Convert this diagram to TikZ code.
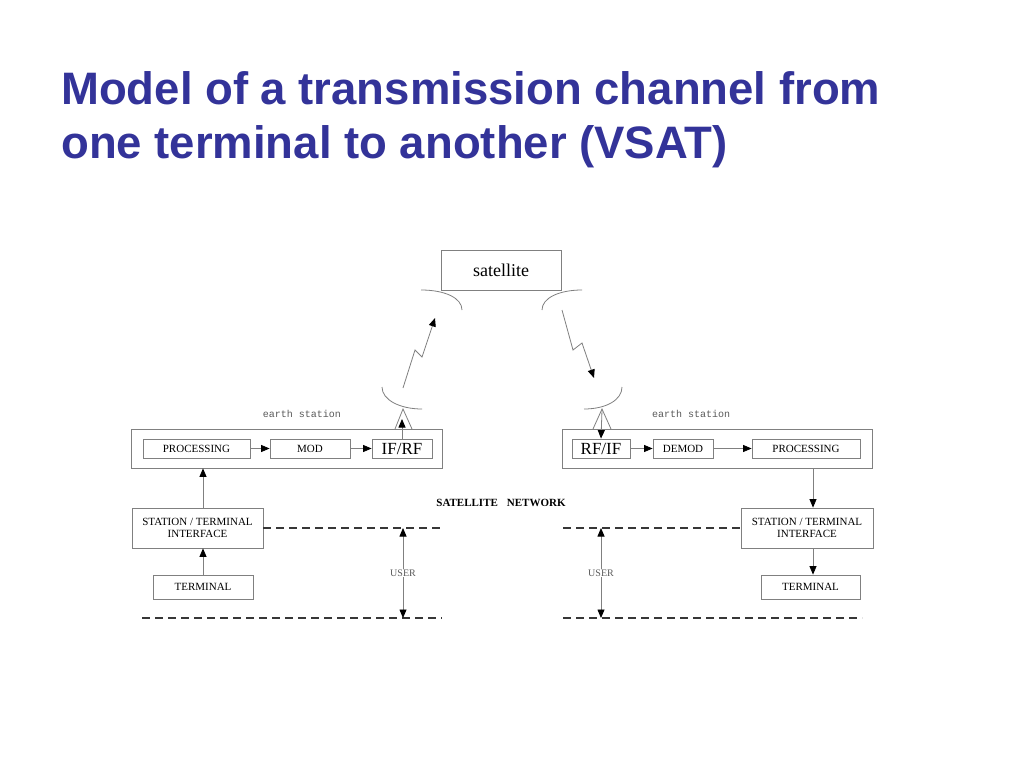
\documentclass[tikz,border=0pt]{standalone}
\usepackage{fontspec}
\setmainfont{Liberation Serif}
\newfontfamily\titlefont{Liberation Sans}
\newfontfamily\monofont{Liberation Mono}
\usetikzlibrary{arrows.meta,calc}
\definecolor{titleblue}{RGB}{51,51,153}
\definecolor{boxgray}{RGB}{128,128,128}
\definecolor{dashgray}{RGB}{55,55,55}
\definecolor{textgray}{RGB}{90,90,90}
\begin{document}
\begin{tikzpicture}[x=1pt,y=-1pt,
  box/.style={draw=boxgray,line width=0.8pt,rectangle,inner sep=0pt,anchor=center,
    font=\fontsize{11}{12}\selectfont,align=center},
  bigbox/.style={box,font=\fontsize{17}{18}\selectfont},
  conn/.style={draw=boxgray,line width=0.8pt},
  arr/.style={conn,-{Triangle[length=8.5pt,width=7pt,fill=black,color=black]}},
  darr/.style={conn,{Triangle[length=8.5pt,width=7pt,fill=black,color=black]}-{Triangle[length=8.5pt,width=7pt,fill=black,color=black]}},
  dline/.style={draw=dashgray,line width=1.1pt,dash pattern=on 8pt off 5pt},
  dish/.style={draw=boxgray,line width=0.8pt},
  lbl/.style={inner sep=0pt,text=textgray},
  titletext/.style={inner sep=0pt,anchor=base west,text=titleblue,
    font=\titlefont\bfseries\fontsize{45.5}{54}\selectfont}
]
\useasboundingbox[fill=white] (0,0) rectangle (1024,768);

% title
\node[titletext] (title1) at (61,104) {Model of a transmission channel from};
\node[titletext] (title2) at (61,158) {one terminal to another (VSAT)};

% satellite
\node[box,minimum width=120pt,minimum height=40pt,font=\fontsize{18}{20}\selectfont] (sat) at (501,270) {satellite};
\draw[dish] (421,290) .. controls (445,290) and (462,298) .. (462,310);
\draw[dish] (542,310) .. controls (542,298) and (559,290) .. (582,290);

% left earth station
\node[box,minimum width=311pt,minimum height=39pt] (lsout) at (286.5,448.5) {};
\node[box,minimum width=107pt,minimum height=19pt] (lproc) at (196.5,448.5) {PROCESSING};
\node[box,minimum width=80pt,minimum height=19pt] (lmod) at (310,448.5) {MOD};
\node[bigbox,minimum width=60pt,minimum height=19pt] (lifrf) at (402,448.5) {IF/RF};
\node[lbl,font=\monofont\fontsize{10}{10}\selectfont] (les) at (302,414) {earth station};

% right earth station
\node[box,minimum width=310pt,minimum height=39pt] (rsout) at (717,448.5) {};
\node[bigbox,minimum width=58pt,minimum height=19pt] (rrfif) at (601,448.5) {RF/IF};
\node[box,minimum width=60pt,minimum height=19pt] (rdemod) at (683,448.5) {DEMOD};
\node[box,minimum width=108pt,minimum height=19pt] (rproc) at (806,448.5) {PROCESSING};
\node[lbl,font=\monofont\fontsize{10}{10}\selectfont] (res) at (691,414) {earth station};

% chain arrows
\draw[arr] (lproc.east) -- (lmod.west);
\draw[arr] (lmod.east) -- (lifrf.west);
\draw[arr] (rrfif.east) -- (rdemod.west);
\draw[arr] (rdemod.east) -- (rproc.west);

% earth dishes
\draw[dish] (382,387) .. controls (382,400) and (400,409) .. (422,409);
\draw[dish] (584,409) .. controls (606,409) and (622,400) .. (622,387);
\coordinate (ltip) at (403,409);
\coordinate (rtip) at (602,409);
\draw[dish] (395,429) -- (ltip) -- (412,429);
\draw[dish] (593,429) -- (rtip) -- (611,429);
\draw[arr] (lifrf.north) -- (402,419);
\draw[arr] (rtip |- 0,410) -- (rrfif.north);

% radio links
\draw[arr] (403,388) -- (415,350) -- (422,357) -- (435,318);
\draw[arr] (562,310) -- (573,350) -- (582,343) -- (594,378);

% interfaces and terminals
\node[box,minimum width=131pt,minimum height=40pt] (lsti) at (197.5,528) {STATION / TERMINAL\\INTERFACE};
\node[box,minimum width=100pt,minimum height=24pt] (lterm) at (203,587) {TERMINAL};
\node[box,minimum width=132pt,minimum height=40pt] (rsti) at (807,528) {STATION / TERMINAL\\INTERFACE};
\node[box,minimum width=99pt,minimum height=24pt] (rterm) at (810.5,587) {TERMINAL};

\draw[arr] (lterm.north) -- (lterm.north |- lsti.south);
\draw[arr] (lterm.north |- lsti.north) -- (lterm.north |- lsout.south);
\draw[arr] ([xshift=6pt]rsti.north |- rsout.south) -- ([xshift=6pt]rsti.north);
\draw[arr] ([xshift=6pt]rsti.south) -- ([xshift=6pt]rsti.south |- rterm.north);

\node[inner sep=0pt,font=\bfseries\fontsize{11}{12}\selectfont] (satnet) at (501,503) {SATELLITE\hspace{9pt}NETWORK};

% dashed boundaries
\coordinate (lul) at (lsti.east -| lsout.east);
\coordinate (lll) at (142,618);
\coordinate (llr) at (442,618);
\coordinate (rul) at (563,528);
\coordinate (rll) at (563,618);
\coordinate (rlr) at (862,618);
\draw[dline] (lsti.east) -- (lul);
\draw[dline] (lll) -- (llr);
\draw[dline] (rul) -- (rsti.west);
\draw[dline] (rll) -- (rlr);

% USER arrows
\coordinate (lua) at (403,528);
\coordinate (lub) at (403,618);
\coordinate (rua) at (601,528);
\coordinate (rub) at (601,618);
\draw[darr] (lub) -- (lua);
\draw[darr] (rub) -- (rua);
\node[lbl,fill=white,inner sep=1pt,font=\fontsize{10}{10}\selectfont] (luser) at (403,573) {USER};
\node[lbl,fill=white,inner sep=1pt,font=\fontsize{10}{10}\selectfont] (ruser) at (601,573) {USER};
\end{tikzpicture}
\end{document}
